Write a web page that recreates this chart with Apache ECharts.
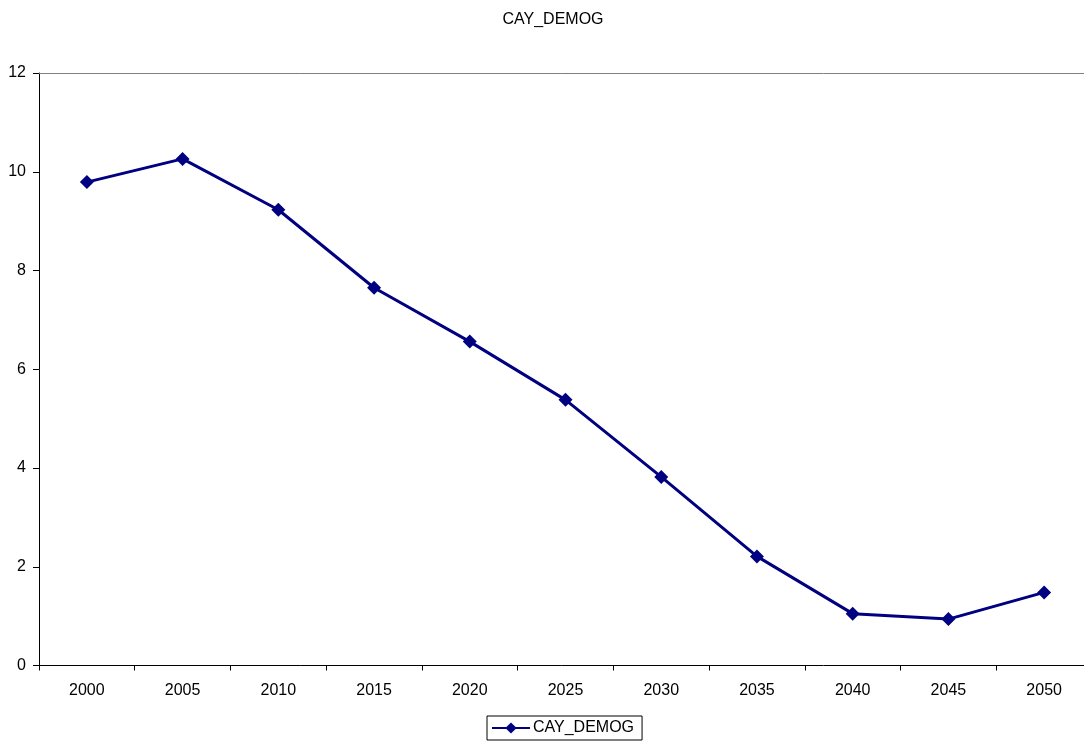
<!DOCTYPE html>
<html><head><meta charset="utf-8">
<script src="https://cdn.jsdelivr.net/npm/echarts@6/dist/echarts.min.js"></script>
<style>html,body{margin:0;padding:0;background:#fff}#c{width:1084px;height:744px}</style>
</head><body><div id="c"></div>
<script>
const categories = ['2000','2005','2010','2015','2020','2025','2030','2035','2040','2045','2050'];
const values = [9.79, 10.26, 9.23, 7.65, 6.56, 5.38, 3.82, 2.21, 1.05, 0.94, 1.48];
const seriesName = 'CAY_DEMOG';
const yTicks = {min: 0, max: 12, interval: 2};

const font = 'Liberation Sans, Arial, sans-serif';
const chart = echarts.init(document.getElementById('c'), null, {renderer: 'canvas'});
chart.setOption({
  animation: false,
  backgroundColor: '#fff',
  title: {text: seriesName, left: 548, textAlign: 'center', top: 7,
    textStyle: {fontFamily: font, fontSize: 16, fontWeight: 'normal', color: '#000'}},
  legend: {data: [seriesName], left: 487, top: 716, orient: 'horizontal',
    borderColor: '#000', borderWidth: 1, padding: [4, 8, 4, 4], itemWidth: 38, itemHeight: 14,
    itemGap: 5,
    textStyle: {fontFamily: font, fontSize: 16, color: '#000', padding: [0, 0, 0, -2]}},
  grid: {left: 39, right: -8, top: 73, bottom: 78.5, containLabel: false, outerBoundsMode: 'none'},
  xAxis: [{
    type: 'category', data: categories, boundaryGap: true, position: 'bottom',
    axisLine: {lineStyle: {color: '#000', width: 1}},
    axisTick: {show: true, length: 5, lineStyle: {color: '#000'}, alignWithLabel: false},
    axisLabel: {fontFamily: font, fontSize: 16, color: '#000', margin: 17, interval: 0},
    splitLine: {show: false}
  }, {
    type: 'category', data: categories, position: 'top',
    axisLine: {lineStyle: {color: '#808080', width: 1}},
    axisTick: {show: false}, axisLabel: {show: false}, splitLine: {show: false}
  }],
  yAxis: {
    type: 'value', min: yTicks.min, max: yTicks.max, interval: yTicks.interval,
    axisLine: {show: true, lineStyle: {color: '#000', width: 1}},
    axisTick: {show: true, length: 6, lineStyle: {color: '#000'}},
    axisLabel: {fontFamily: font, fontSize: 16, color: '#000', margin: 13},
    splitLine: {show: false}
  },
  series: [{
    name: seriesName, type: 'line', data: values,
    symbol: 'diamond', symbolSize: 14,
    lineStyle: {color: '#000080', width: 3},
    itemStyle: {color: '#000080'}
  }]
});
</script></body></html>
